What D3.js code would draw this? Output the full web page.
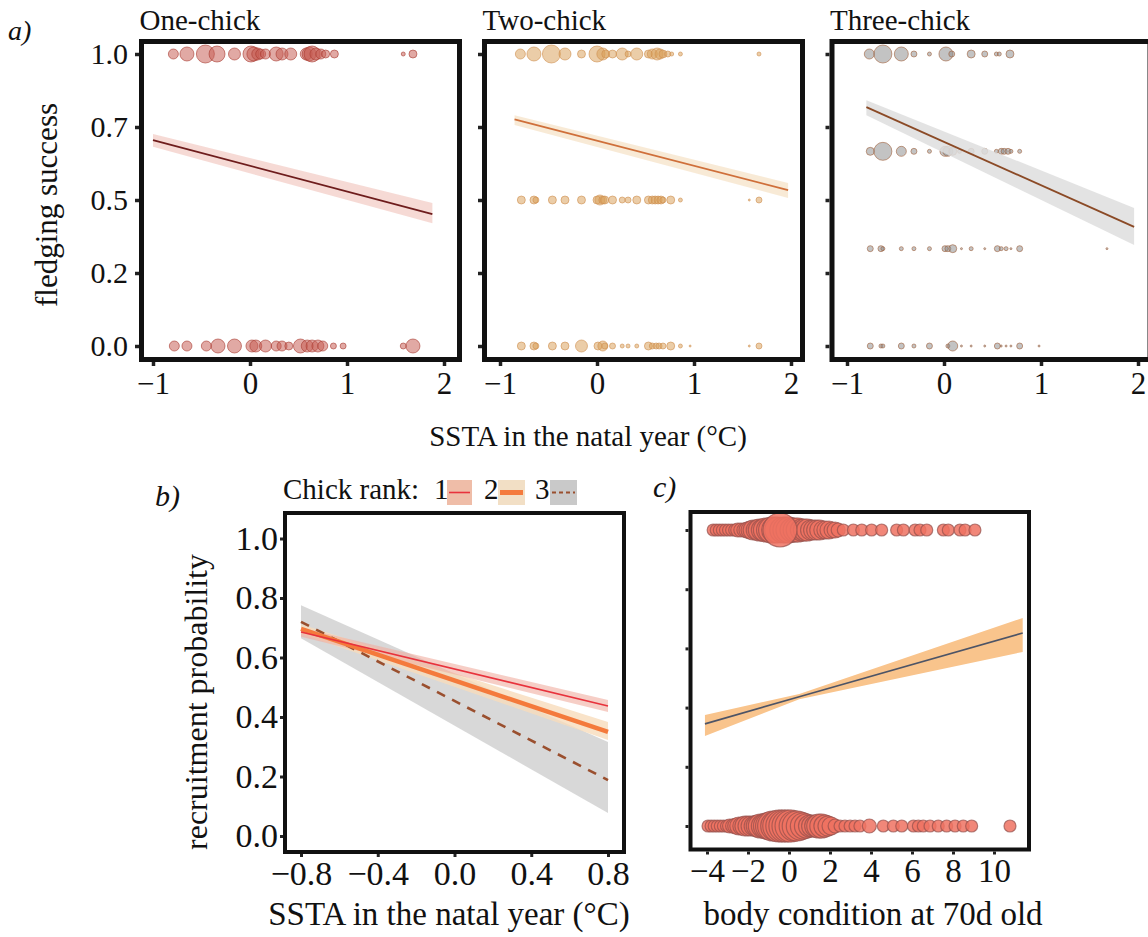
<!DOCTYPE html>
<html>
<head>
<meta charset="utf-8">
<script src="https://cdn.jsdelivr.net/npm/d3@7"></script>
<style>
  body { margin: 0; background: #fff; }
  text { font-family: "Liberation Serif", "Times New Roman", serif; fill: #111; }
</style>
</head>
<body>
<script>
// ---- panel a data: [SSTA, radius] per fledging level ----
const facetNames = ["One-chick", "Two-chick", "Three-chick"];
const aYTicks  = [0, 0.25, 0.5, 0.75, 1];
const aYLabels = ["0.0", "0.2", "0.5", "0.7", "1.0"];
const aXTicks  = [-1, 0, 1, 2];

const oneChickTop = [[-0.79,5],[-0.65,7],[-0.46,9],[-0.34,8],[-0.16,6],[0.01,8],[0.04,7],[0.08,6],[0.11,5],[0.16,5],
  [0.27,7],[0.33,6],[0.42,6],[0.58,6],[0.61,7],[0.64,8],[0.68,6],[0.73,5],[0.78,4],[0.87,4],[1.58,2],[1.68,4]];
const oneChickBottom = [[-0.78,5],[-0.65,5],[-0.45,5],[-0.33,7],[-0.16,7],[0.02,6],[0.06,6],[0.16,6],[0.27,5],[0.33,5],
  [0.40,4],[0.52,7],[0.59,6],[0.64,6],[0.70,6],[0.75,5],[0.86,3],[0.96,3],[1.58,3],[1.68,7]];

const twoChickTop = [[-0.79,5],[-0.65,7],[-0.47,9],[-0.33,6],[-0.16,4],[0.00,8],[0.06,6],[0.09,4],[0.16,4],[0.26,6],
  [0.32,3],[0.41,6],[0.53,4],[0.57,5],[0.62,6],[0.65,5],[0.68,4],[0.73,3],[0.77,2],[0.86,2],[1.67,2]];
const twoChickMid = [[-0.78,4],[-0.65,4],[-0.63,3],[-0.46,4],[-0.33,4],[-0.16,4],[0.00,4],[0.03,5],[0.06,4],[0.08,4],
  [0.16,4],[0.26,3],[0.32,3],[0.41,4],[0.53,4],[0.57,4],[0.60,4],[0.63,4],[0.66,4],[0.68,3],[0.76,4],[0.86,2],[1.57,1],[1.67,3]];
const twoChickBottom = [[-0.78,4],[-0.65,4],[-0.63,3],[-0.46,4],[-0.33,4],[-0.16,6],[0.01,4],[0.06,5],[0.08,3],[0.16,3],
  [0.26,2],[0.32,2],[0.41,2],[0.53,4],[0.57,3],[0.61,3],[0.64,3],[0.68,3],[0.76,4],[0.86,2],[0.96,1],[1.57,1],[1.67,3]];

const threeChick100 = [[-0.77,5],[-0.63,9],[-0.44,7],[-0.31,3],[-0.15,2],[0.02,7],[0.08,3],[0.28,4],[0.42,3],[0.54,2],[0.57,2],[0.68,4]];
const threeChick067 = [[-0.76,4],[-0.63,9],[-0.44,5],[-0.31,3],[-0.15,2],[0.01,5],[0.04,5],[0.09,4],[0.16,2],[0.28,3],
  [0.42,3],[0.54,2],[0.59,3],[0.62,3],[0.66,3],[0.69,2],[0.78,2]];
const threeChick033 = [[-0.76,3],[-0.65,3],[-0.63,2],[-0.44,2],[-0.31,2],[-0.15,2],[0.01,3],[0.04,3],[0.09,4],[0.18,1],
  [0.28,2],[0.42,1],[0.55,3],[0.59,2],[0.64,2],[0.69,1],[0.78,3],[1.68,1]];
const threeChick000 = [[-0.76,3],[-0.65,2],[-0.63,2],[-0.44,3],[-0.31,2],[-0.15,3],[0.04,2],[0.09,5],[0.18,1],[0.28,1],
  [0.42,1],[0.55,3],[0.59,1],[0.64,1],[0.69,1],[0.78,3],[0.98,1]];

// fitted line + ci: [x, fit, lo, hi]
const oneChickFit   = [[-1.0, 0.705, 0.682, 0.726], [1.88, 0.452, 0.42, 0.49]];
const twoChickFit   = [[-0.85, 0.776, 0.757, 0.79], [1.97, 0.534, 0.507, 0.558]];
const threeChickFit = [[-0.8, 0.818, 0.79, 0.842], [1.96, 0.408, 0.346, 0.473]];

// ---- panel b data ----
const rankNames = ["1", "2", "3"];
const bXTicks = [-0.8, -0.4, 0, 0.4, 0.8];
const bYTicks = [0, 0.2, 0.4, 0.6, 0.8, 1.0];
const rank1Fit = [[-0.8, 0.686, 0.67, 0.70], [0.8, 0.437, 0.417, 0.457]];
const rank2Fit = [[-0.8, 0.696, 0.68, 0.712], [0.8, 0.35, 0.323, 0.383]];
const rank3Fit = [[-0.8, 0.72, 0.665, 0.776], [0.8, 0.188, 0.077, 0.316]];

// ---- panel c data: [body condition, radius] ----
const cXTicks = [-4, -2, 0, 2, 4, 6, 8, 10];
const cYTicks = [0, 0.2, 0.4, 0.6, 0.8, 1.0];
const recruitedYes = [[-3.7,6],[-3.55,6],[-3.4,6],[-3.25,6],[-3.1,6],[-2.95,6],[-2.8,6],[-2.65,6],[-2.5,7],[-2.35,7],
  [-2.2,7],[-2.05,8],[-1.9,9],[-1.75,10],[-1.6,10],[-1.45,11],[-1.3,11],[-1.15,12],[-1.0,12],[-0.85,13],[-0.7,13],
  [-0.55,13],[-0.3,13],[-0.15,13],[0.0,13],[0.15,12],[0.3,12],[0.45,12],[0.6,11],[0.75,11],[0.9,11],[1.05,10],
  [1.2,10],[1.35,10],[1.5,10],[1.65,9],[1.8,9],[1.95,9],[2.1,8],[2.25,8],[2.4,7],[2.65,6],[3.14,6],[3.55,6],[4.03,6],
  [4.52,6],[5.25,6],[5.58,6],[6.15,6],[6.39,6],[6.72,6],[7.53,6],[7.77,6],[8.34,6],[8.59,6],[9.07,6],[-0.44,17]];
const recruitedNo = [[-3.95,6],[-3.8,6],[-3.65,6],[-3.5,6],[-3.35,6],[-3.2,6],[-3.05,6],[-2.9,7],[-2.75,7],[-2.6,8],
  [-2.45,9],[-2.3,9],[-2.15,10],[-2.0,10],[-1.85,10],[-1.7,10],[-1.55,11],[-1.4,12],[-1.25,12],[-1.1,13],[-0.95,14],
  [-0.8,15],[-0.65,15],[-0.5,16],[-0.35,16],[-0.2,16],[-0.05,16],[0.1,16],[0.25,15],[0.4,15],[0.55,14],[0.7,13],
  [0.85,12],[1.0,11],[1.15,11],[1.3,11],[1.45,12],[1.6,12],[1.75,11],[1.9,10],[2.05,9],[2.25,7],[2.49,6],[2.73,6],
  [2.98,6],[3.22,6],[3.46,6],[3.92,7],[4.6,6],[5.09,6],[5.5,6],[6.07,6],[6.31,6],[6.55,6],[6.88,6],[7.28,6],[7.69,6],
  [8.1,6],[8.5,6],[8.91,6],[10.78,6]];
const bodyFit = [[-4.1, 0.345, 0.304, 0.375], [0.5, 0.437, 0.428, 0.446], [11.4, 0.652, 0.588, 0.703]];

const W = 1148, H = 937;
const svg = d3.select("body").append("svg").attr("width", W).attr("height", H);

const line = (x, y) => d3.line().x(d => x(d[0])).y(d => y(d[1]));
const band = (x, y) => d3.area().x(d => x(d[0])).y0(d => y(d[2])).y1(d => y(d[3]));

function styleAxis(g, size, width) {
  g.select(".domain").remove();
  g.selectAll(".tick line").attr("stroke", "#222").attr("stroke-width", width);
  g.selectAll(".tick text").style("font-size", size + "px").attr("fill", "#111");
}

// ================= panel a =================
const facets = [
  { rows: [[1, oneChickTop], [0, oneChickBottom]], fit: oneChickFit,
    fill: "#c55a50", stroke: "#a83a30", band: "#f4d3ce", line: "#6e1c1c" },
  { rows: [[1, twoChickTop], [0.5, twoChickMid], [0, twoChickBottom]], fit: twoChickFit,
    fill: "#d9a058", stroke: "#cf9050", band: "#f7e6cf", line: "#cf6f3a" },
  { rows: [[1, threeChick100], [2/3, threeChick067], [1/3, threeChick033], [0, threeChick000]], fit: threeChickFit,
    fill: "#8c8c8c", stroke: "#a0603c", band: "#dedede", line: "#8b4a26" }
];
const aLeft = [141.5, 484.5, 832], aTick0 = [153, 500, 847];
const aTop = 41.5, aBottom = 359.5, aWidth = 318;
const aY = d3.scaleLinear().domain([0, 1]).range([346, 54]);

facets.forEach((f, i) => {
  const x = d3.scaleLinear().domain([-1, 2]).range([aTick0[i], aTick0[i] + 291]);
  const g = svg.append("g");

  f.rows.forEach(([lvl, pts]) => {
    g.append("g").selectAll("circle")
      .data(pts)
      .enter().append("circle")
      .attr("cx", d => x(d[0]))
      .attr("cy", aY(lvl))
      .attr("r", d => d[1])
      .attr("fill", f.fill).attr("fill-opacity", 0.52)
      .attr("stroke", f.stroke).attr("stroke-opacity", 0.6).attr("stroke-width", 1);
  });

  g.append("path").datum(f.fit).attr("d", band(x, aY)).attr("fill", f.band).attr("fill-opacity", 0.85);
  g.append("path").datum(f.fit).attr("d", line(x, aY))
    .attr("fill", "none").attr("stroke", f.line).attr("stroke-width", 1.8);

  g.append("rect")
    .attr("x", aLeft[i]).attr("y", aTop)
    .attr("width", aWidth).attr("height", aBottom - aTop)
    .attr("fill", "none").attr("stroke", "#111").attr("stroke-width", 5);

  const xa = g.append("g").attr("transform", "translate(0," + (aBottom + 2.5) + ")")
    .call(d3.axisBottom(x).tickValues(aXTicks).tickSize(4).tickPadding(6).tickFormat(d3.format("d")));
  styleAxis(xa, 31, 3.5);

  const ya = g.append("g").attr("transform", "translate(" + (aLeft[i] - 2.5) + ",0)")
    .call(d3.axisLeft(aY).tickValues(aYTicks).tickSize(4).tickPadding(7)
      .tickFormat((d, k) => i === 0 ? aYLabels[k] : ""));
  styleAxis(ya, 30, 3.5);

  svg.append("text").attr("x", aLeft[i] - 2).attr("y", 30)
    .style("font-size", "29px").text(facetNames[i]);
});

svg.append("text").attr("x", 8).attr("y", 40)
  .style("font-size", "28px").style("font-style", "italic").text("a)");
svg.append("text").attr("transform", "translate(57,205) rotate(-90)")
  .attr("text-anchor", "middle").style("font-size", "31px").text("fledging success");
svg.append("text").attr("x", 588).attr("y", 446)
  .attr("text-anchor", "middle").style("font-size", "29px").text("SSTA in the natal year (°C)");

// ================= panel b =================
const bX = d3.scaleLinear().domain([-0.8, 0.8]).range([301, 608]);
const bY = d3.scaleLinear().domain([0, 1]).range([836, 538.5]);
const gb = svg.append("g");

const ranks = [
  { fit: rank3Fit, band: "#c8c8c8", bandOp: 0.7, col: "#9a4f2e", w: 2.6, dash: "9,8" },
  { fit: rank2Fit, band: "#f7dcbc", bandOp: 0.8, col: "#f47a3c", w: 4.5, dash: null },
  { fit: rank1Fit, band: "#f0aea0", bandOp: 0.6, col: "#e8323c", w: 1.6, dash: null }
];
ranks.forEach(r => {
  gb.append("path").datum(r.fit).attr("d", band(bX, bY)).attr("fill", r.band).attr("fill-opacity", r.bandOp);
});
ranks.forEach(r => {
  gb.append("path").datum(r.fit).attr("d", line(bX, bY))
    .attr("fill", "none").attr("stroke", r.col).attr("stroke-width", r.w)
    .attr("stroke-dasharray", r.dash);
});

gb.append("rect").attr("x", 285).attr("y", 513).attr("width", 339).attr("height", 339)
  .attr("fill", "none").attr("stroke", "#111").attr("stroke-width", 4);

const bxa = gb.append("g").attr("transform", "translate(0,854)")
  .call(d3.axisBottom(bX).tickValues(bXTicks).tickSize(3).tickPadding(4).tickFormat(d3.format(".1f")));
styleAxis(bxa, 34, 3);
const bya = gb.append("g").attr("transform", "translate(283,0)")
  .call(d3.axisLeft(bY).tickValues(bYTicks).tickSize(3).tickPadding(2).tickFormat(d3.format(".1f")));
styleAxis(bya, 34, 3);

svg.append("text").attr("x", 155).attr("y", 506)
  .style("font-size", "30px").style("font-style", "italic").text("b)");
svg.append("text").attr("transform", "translate(207,702) rotate(-90)")
  .attr("text-anchor", "middle").style("font-size", "32px").text("recruitment probability");
svg.append("text").attr("x", 449).attr("y", 925)
  .attr("text-anchor", "middle").style("font-size", "33px").text("SSTA in the natal year (°C)");

// legend
const lg = svg.append("g");
lg.append("text").attr("x", 283).attr("y", 499).style("font-size", "29px").text("Chick rank:");
const keys = [
  { lx: 434, bx: 447, bw: 25, fill: "#efbda8", col: "#e8323c", w: 1.6, dash: null },
  { lx: 484, bx: 498, bw: 27, fill: "#f2dfc5", col: "#f47a3c", w: 5, dash: null },
  { lx: 535, bx: 550, bw: 27, fill: "#c9c9c9", col: "#9a4f2e", w: 2, dash: "4,3" }
];
keys.forEach((k, i) => {
  lg.append("text").attr("x", k.lx).attr("y", 499).style("font-size", "29px").text(rankNames[i]);
  lg.append("rect").attr("x", k.bx).attr("y", 480).attr("width", k.bw).attr("height", 25).attr("fill", k.fill);
  lg.append("line").attr("x1", k.bx + 2).attr("x2", k.bx + k.bw - 2).attr("y1", 492.5).attr("y2", 492.5)
    .attr("stroke", k.col).attr("stroke-width", k.w).attr("stroke-dasharray", k.dash);
});

// ================= panel c =================
const cX = d3.scaleLinear().domain([-4, 10]).range([707, 994]);
const cY = d3.scaleLinear().domain([0, 1]).range([826, 530]);
const gc = svg.append("g");

[[1, recruitedYes], [0, recruitedNo]].forEach(([lvl, pts]) => {
  gc.append("g").selectAll("circle")
    .data(pts)
    .enter().append("circle")
    .attr("cx", d => cX(d[0]))
    .attr("cy", cY(lvl))
    .attr("r", d => d[1])
    .attr("fill", "#ef7262").attr("fill-opacity", 0.85)
    .attr("stroke", "#94504c").attr("stroke-opacity", 0.7).attr("stroke-width", 1.2);
});

gc.append("path").datum(bodyFit).attr("d", band(cX, cY)).attr("fill", "#f9c48c");
gc.append("path").datum(bodyFit).attr("d", line(cX, cY))
  .attr("fill", "none").attr("stroke", "#4d5466").attr("stroke-width", 1.6);

gc.append("rect").attr("x", 690.5).attr("y", 512).attr("width", 338.5).attr("height", 337.5)
  .attr("fill", "none").attr("stroke", "#111").attr("stroke-width", 4);

const cxa = gc.append("g").attr("transform", "translate(0,851.5)")
  .call(d3.axisBottom(cX).tickValues(cXTicks).tickSize(3).tickPadding(4));
styleAxis(cxa, 33, 3);
const cya = gc.append("g").attr("transform", "translate(688.5,0)")
  .call(d3.axisLeft(cY).tickValues(cYTicks).tickSize(3).tickFormat(""));
styleAxis(cya, 33, 3);

svg.append("text").attr("x", 653).attr("y", 497)
  .style("font-size", "30px").style("font-style", "italic").text("c)");
svg.append("text").attr("x", 873).attr("y", 925)
  .attr("text-anchor", "middle").style("font-size", "33px").text("body condition at 70d old");
</script>
</body>
</html>
